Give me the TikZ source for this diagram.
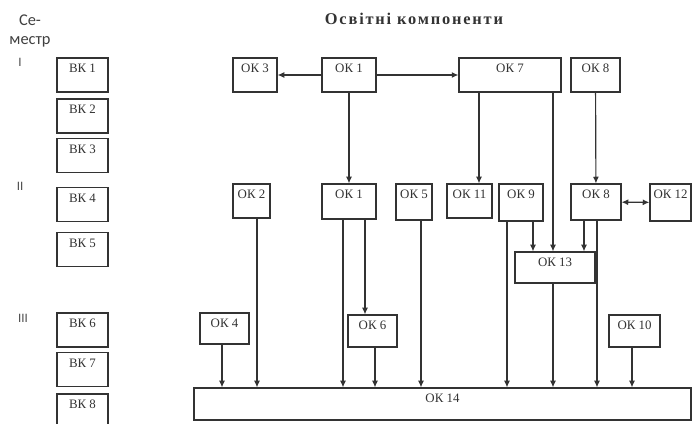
\documentclass[tikz,border=0pt]{standalone}
\usepackage{fontspec}
\setmainfont{Liberation Serif}
\newfontfamily\semfont{Carlito}
\usepackage{tikz}
\usetikzlibrary{calc, positioning, arrows.meta}

\begin{document}
\begin{tikzpicture}[>={Latex[length=2mm, width=1.8mm]}, x=0.3mm, y=-0.3mm,
    okbox/.style 2 args={draw=black!80, line width=1pt, inner xsep=0pt, inner ysep=0pt,
        minimum width=#1*0.3mm, text height=4.4mm, text depth=#2*0.3mm-4.4mm,
        font=\fontsize{11}{13}\selectfont, text=black!80},
    semlabel/.style={font=\semfont\fontsize{11}{13}\selectfont, text=black!70},
    link/.style={draw=black!80, line width=1pt, ->}]
                \useasboundingbox (0,0) rectangle (692,424);
                % 1. Заголовки
                \node[font=\fontsize{14}{16}\selectfont\bfseries\addfontfeatures{LetterSpace=11}, text=black!80]
                    (title) at (414,19) {Освітні компоненти};
                \node[font=\semfont\fontsize{14}{16}\selectfont, text=black!75, align=center]
                    (sem) at (30,31) {Се-\\местр};
                \node[semlabel] (s1) at (20,62) {I};
                \node[semlabel] (s2) at (20,186) {II};
                \node[semlabel] (s3) at (23,318) {III};
                
                % 2. Вибіркові компоненти
                \foreach \n/\yc in {1/75, 2/116, 3/155.5, 4/204.5, 5/249.5, 6/330, 7/369.5, 8/411} {
                    \node[okbox={51}{34}] (bk\n) at (82.5,\yc) {ВК \n};
                }
                
                % 3. Обов'язкові компоненти
                \node[okbox={44}{34}] (ok3) at (255,75) {ОК 3};
                \node[okbox={54}{34}] (ok1t) at (349,75) {ОК 1};
                \node[okbox={102}{34}] (ok7) at (510,75) {ОК 7};
                \node[okbox={49}{34}] (ok8t) at (595.5,75) {ОК 8};
                
                \node[okbox={37}{34}] (ok2) at (251.5,201) {ОК 2};
                \node[okbox={54}{35}] (ok1m) at (349,201.5) {ОК 1};
                \node[okbox={36}{36}] (ok5) at (414,202) {ОК 5};
                \node[okbox={45}{34}] (ok11) at (469.5,201) {ОК 11};
                \node[okbox={44}{37}] (ok9) at (521,202.5) {ОК 9};
                \node[okbox={50}{36}] (ok8m) at (596,202) {ОК 8};
                \node[okbox={41}{37}] (ok12) at (670.5,202.5) {ОК 12};
                \node[okbox={80}{31}] (ok13) at (555,267.5) {ОК 13};
                
                \node[okbox={49}{31}] (ok4) at (224.5,328.5) {ОК 4};
                \node[okbox={49}{32}] (ok6) at (372.5,331) {ОК 6};
                \node[okbox={51}{32}] (ok10) at (634.5,331) {ОК 10};
                \node[okbox={497}{32}] (ok14) at (442.5,404) {ОК 14};
                
                % 4. Зв'язки
                \draw[link] (ok1t) -- (ok3);
                \draw[link] (ok1t) -- (ok7);
                \draw[link] (ok1t) -- (ok1m);
                \draw[link] (ok8t) -- (ok8m);
                \draw[link, <->] (ok8m) -- (ok12);
                \foreach \src/\dst/\cx in {ok7/ok11/479, ok7/ok13/553, ok9/ok13/533,
                                         ok8m/ok13/584, ok1m/ok6/365} {
                    \draw[link] (\src.south -| \cx,0) -- (\dst.north -| \cx,0);
                }
                \foreach \src/\cx in {ok4/222, ok2/257, ok1m/343, ok6/375, ok5/421,
                                      ok9/507, ok13/553, ok8m/597, ok10/632} {
                    \draw[link] (\src.south -| \cx,0) -- (ok14.north -| \cx,0);
                }
            \end{tikzpicture}
\end{document}
